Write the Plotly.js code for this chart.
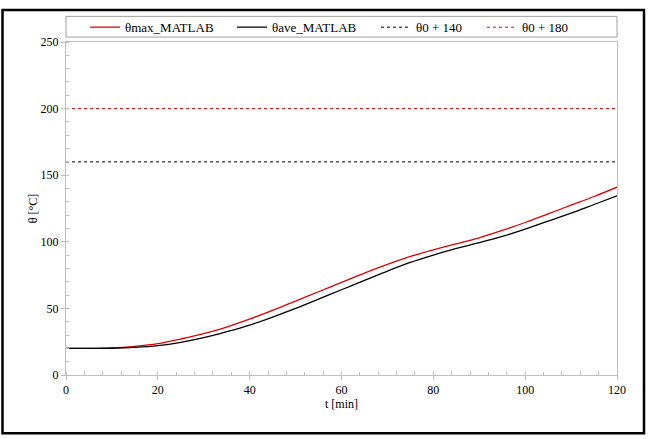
<!DOCTYPE html>
<html><head><meta charset="utf-8">
<script src="https://cdn.plot.ly/plotly-3.0.1.min.js"></script>
<style>html,body{margin:0;padding:0;background:#fff;}#chart{width:653px;height:439px;}</style>
</head><body><div id="chart"></div>
<script>
const time = [0,5,10,15,20,25,30,35,40,45,50,55,60,65,70,75,80,85,90,95,100,105,110,115,120];
const thetaMax = [20,20,20.3,21.5,23.5,27,31,36,42,48.5,55.5,62.5,69.5,76.5,83,89,94,98.5,103,108.5,114.5,121,127.5,134,141];
const thetaAve = [20,20,20.1,20.7,22,24.5,28,32.5,37.5,43.5,50,57,64,71,78,84.5,90,95,99.3,104,109.5,115.5,121.5,128,134.5];
const limit140 = 160;
const limit180 = 200;
const seriesNames = ['θmax_MATLAB','θave_MATLAB','θ0 + 140','θ0 + 180'];
const xRange = [0,120];
const yRange = [0,250];

const FAM = 'Liberation Serif, DejaVu Serif, serif';
const font = {family:FAM, size:12, color:'#000'};
const legFont = {family:FAM, size:13, color:'#000'};
const traces = [
  {x:time, y:thetaMax, name:seriesNames[0], legend:'legend', mode:'lines', line:{color:'#e00000', width:1.3, shape:'spline'}},
  {x:time, y:thetaAve, name:seriesNames[1], legend:'legend2', mode:'lines', line:{color:'#000', width:1.3, shape:'spline'}},
  {x:xRange, y:[limit140,limit140], name:seriesNames[2], legend:'legend3', mode:'lines', line:{color:'#000', width:1, dash:'dot'}},
  {x:xRange, y:[limit180,limit180], name:seriesNames[3], legend:'legend4', mode:'lines', line:{color:'#e00000', width:1, dash:'dot'}}
];
const PW = 551, PH = 338, PL = 66, PT = 37;
function px2x(p){ return (p - PL) / PW; }
function px2y(p){ return (PT + PH - p) / PH; }
function leg(textStart){
  return {orientation:'h', x:px2x(textStart - 42), xanchor:'left', y:px2y(22), yanchor:'middle',
          font:legFont, bgcolor:'rgba(0,0,0,0)', borderwidth:0};
}
const axisCommon = {
  showgrid:false, zeroline:false, showline:true, linecolor:'#bfbfbf', linewidth:1, mirror:true,
  ticks:'outside', ticklen:4, tickcolor:'#bfbfbf', tickfont:font
};
const layout = {
  width:653, height:439,
  margin:{l:PL, r:653-PL-PW, t:PT, b:439-PT-PH},
  paper_bgcolor:'#fff', plot_bgcolor:'#fff',
  font:font,
  showlegend:true,
  legend:leg(127), legend2:leg(274), legend3:leg(418), legend4:leg(524),
  xaxis:Object.assign({}, axisCommon, {range:xRange, dtick:20, tick0:0,
        minor:{dtick:4, ticks:'inside', ticklen:3, tickcolor:'#bfbfbf'},
        title:{text:'t [min]', font:font, standoff:0}}),
  yaxis:Object.assign({}, axisCommon, {range:yRange, dtick:50, tick0:0,
        minor:{dtick:10, ticks:'inside', ticklen:3, tickcolor:'#bfbfbf'},
        title:{text:'θ [°C]', font:font, standoff:0}}),
  shapes:[
    {type:'rect', xref:'paper', yref:'paper', x0:0, x1:1, y0:px2y(32), y1:px2y(11), line:{color:'#a0a0a0', width:1}},
    {type:'rect', xref:'paper', yref:'paper', x0:px2x(2.5), x1:px2x(644), y0:px2y(434), y1:px2y(4.5), line:{color:'#000', width:2.5}}
  ]
};
Plotly.newPlot('chart', traces, layout, {displayModeBar:false, staticPlot:true});
</script></body></html>
